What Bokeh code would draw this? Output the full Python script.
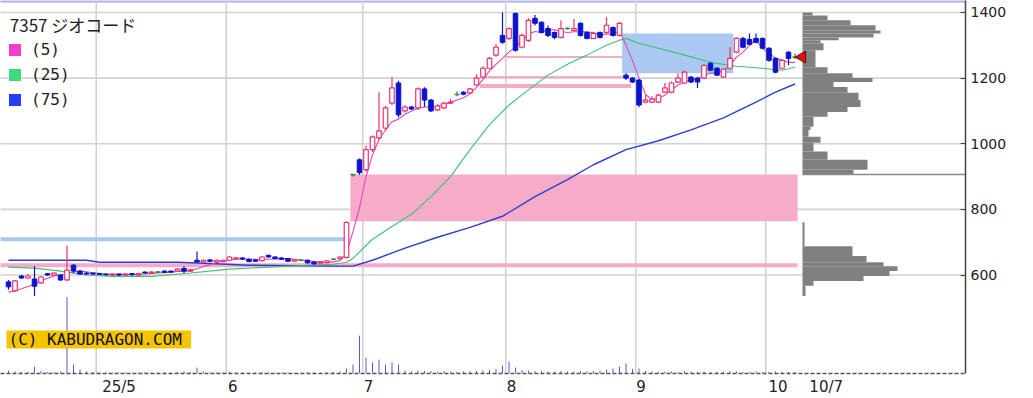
import math
from bokeh.plotting import figure
from bokeh.models import (Range1d, FixedTicker, Label, BoxAnnotation, Legend,
                          LegendItem, ColumnDataSource)
from bokeh.embed import file_html
from bokeh.resources import INLINE

# ---------------- data ----------------
ticker_name = "7357 ジオコード"
ma_labels = ["(5)", "(25)", "(75)"]
price_ticks = [600, 800, 1000, 1200, 1400]
month_labels = ["25/5", "6", "7", "8", "9", "10", "10/7"]
month_label_pos = [17.0, 34.5, 55.4, 77.4, 97.3, 118.4, 125.8]
month_start_idx = [14, 34, 55, 77, 97, 117]

opens = [579, 552, 597, 591, 588, 576, 604, 600, 600, 585,
         630, 612, 606, 606, 604, 603, 600, 603, 600, 604,
         600, 609, 605, 609, 612, 612, 612, 620, 612, 645,
         640, 646, 640, 641, 645, 650, 652, 648, 646, 644,
         660, 655, 652, 650, 642, 645, 645, 640, 636, 638,
         648, 650, 654, 906, 951, 921, 982, 1018, 1048, 1124,
         1185, 1100, 1112, 1109, 1167, 1133, 1103, 1109, 1124, 1150,
         1157, 1155, 1179, 1203, 1230, 1270, 1330, 1321, 1397, 1294,
         1315, 1382, 1370, 1351, 1339, 1324, 1351, 1345, 1367, 1339,
         1321, 1339, 1339, 1354, 1330, 1209, 1200, 1194, 1127, 1127,
         1127, 1157, 1157, 1188, 1185, 1203, 1200, 1200, 1245, 1230,
         1203, 1230, 1279, 1321, 1318, 1321, 1321, 1291, 1260, 1230,
         1279, 1264]
highs = [585, 585, 600, 603, 627, 597, 606, 608, 603, 690,
         633, 615, 609, 607, 606, 605, 605, 604, 606, 606,
         606, 611, 612, 612, 614, 613, 620, 627, 618, 672,
         647, 648, 647, 647, 658, 654, 654, 650, 648, 657,
         662, 657, 654, 652, 648, 648, 647, 642, 642, 645,
         650, 657, 764, 908, 955, 995, 1025, 1157, 1115, 1203,
         1192, 1118, 1115, 1172, 1172, 1136, 1120, 1127, 1136, 1160,
         1160, 1170, 1212, 1236, 1264, 1303, 1400, 1354, 1400, 1336,
         1382, 1392, 1373, 1360, 1342, 1376, 1355, 1380, 1370, 1342,
         1340, 1342, 1385, 1357, 1372, 1215, 1203, 1197, 1148, 1145,
         1152, 1185, 1190, 1215, 1222, 1206, 1203, 1242, 1250, 1233,
         1230, 1294, 1324, 1325, 1336, 1336, 1324, 1294, 1263, 1258,
         1282, 1275]
lows = [555, 548, 588, 588, 536, 573, 597, 598, 582, 582,
        606, 600, 600, 600, 600, 598, 598, 597, 598, 598,
        598, 604, 603, 606, 606, 606, 610, 606, 609, 638,
        638, 640, 638, 639, 643, 648, 646, 639, 640, 642,
        653, 648, 646, 640, 640, 642, 635, 632, 634, 636,
        645, 648, 650, 900, 905, 915, 975, 1012, 1042, 1118,
        1080, 1095, 1103, 1103, 1112, 1097, 1100, 1106, 1121, 1145,
        1148, 1152, 1176, 1200, 1227, 1265, 1305, 1315, 1280, 1290,
        1310, 1360, 1336, 1325, 1318, 1321, 1348, 1342, 1327, 1318,
        1318, 1321, 1336, 1327, 1327, 1194, 1185, 1112, 1124, 1124,
        1124, 1154, 1154, 1185, 1182, 1185, 1170, 1197, 1221, 1206,
        1200, 1227, 1276, 1291, 1300, 1306, 1288, 1250, 1215, 1227,
        1239, 1258]
closes = [564, 582, 591, 597, 566, 594, 600, 606, 585, 615,
          612, 603, 603, 603, 602, 601, 603, 600, 603, 601,
          604, 606, 609, 609, 608, 609, 618, 612, 616, 640,
          645, 642, 645, 645, 655, 652, 649, 641, 642, 655,
          655, 650, 648, 642, 646, 645, 637, 634, 640, 643,
          648, 655, 760, 906, 912, 982, 1021, 1039, 1109, 1170,
          1088, 1112, 1106, 1167, 1133, 1100, 1115, 1124, 1127, 1150,
          1151, 1167, 1200, 1230, 1260, 1294, 1309, 1351, 1285, 1330,
          1376, 1367, 1339, 1330, 1324, 1351, 1351, 1351, 1330, 1321,
          1336, 1324, 1361, 1330, 1367, 1200, 1188, 1118, 1133, 1136,
          1148, 1170, 1185, 1200, 1218, 1188, 1188, 1239, 1224, 1209,
          1227, 1260, 1321, 1294, 1303, 1309, 1291, 1254, 1218, 1254,
          1260, 1264]
volumes = [30, 20, 15, 15, 70, 25, 15, 15, 20, 770,
           90, 40, 20, 15, 12, 12, 10, 10, 12, 10,
           10, 12, 10, 10, 12, 10, 15, 20, 15, 60,
           20, 12, 10, 12, 15, 10, 12, 10, 10, 15,
           12, 10, 10, 12, 10, 10, 12, 10, 10, 12,
           15, 20, 50, 90, 380, 160, 110, 140, 90, 110,
           90, 30, 20, 30, 25, 25, 20, 25, 20, 15,
           20, 20, 25, 30, 35, 45, 80, 120, 60, 35,
           30, 25, 25, 20, 20, 25, 20, 20, 25, 20,
           25, 30, 40, 50, 70, 100, 45, 50, 25, 20,
           15, 20, 20, 15, 25, 20, 15, 20, 15, 15,
           15, 25, 20, 15, 15, 20, 15, 15, 20, 15,
           15, 15]
ma5 = [548, 552, 558, 565, 573, 582, 590, 597, 600, 606,
       609, 612, 610, 607, 605, 602, 602, 602, 602, 602,
       602, 603, 605, 606, 607, 608, 611, 611, 613, 619,
       626, 631, 638, 643, 646, 648, 649, 648, 648, 648,
       648, 649, 650, 650, 648, 646, 644, 641, 640, 640,
       640, 644, 665, 733, 805, 900, 966, 1012, 1042, 1067,
       1075, 1090, 1100, 1108, 1112, 1112, 1115, 1120, 1126, 1133,
       1140, 1152, 1172, 1196, 1222, 1242, 1260, 1280, 1294, 1316,
       1334, 1342, 1339, 1348, 1347, 1342, 1339, 1341, 1341, 1341,
       1338, 1332, 1334, 1334, 1344, 1300, 1254, 1200, 1150, 1135,
       1139, 1148, 1164, 1179, 1188, 1194, 1197, 1209, 1215, 1215,
       1224, 1239, 1264, 1279, 1300, 1315, 1291, 1276, 1261, 1254,
       1248, 1248]
ma25_idx = [0, 4, 8, 12, 16, 22, 28, 34, 40, 46, 50, 52, 53, 56, 59, 62, 65, 68,
            71, 74, 77, 80, 83, 86, 89, 92, 94, 95, 97, 100, 104, 108, 112, 116,
            119, 121]
ma25_val = [624, 621, 612, 600, 596, 596, 606, 618, 624, 630, 633, 639, 651, 709,
            748, 785, 839, 900, 982, 1058, 1118, 1164, 1209, 1242, 1270, 1300,
            1315, 1321, 1306, 1291, 1270, 1248, 1236, 1230, 1224, 1233]
ma75_idx = [0, 12, 14, 26, 30, 37, 50, 53, 56, 61, 66, 71, 76, 81, 86, 90, 95,
            100, 105, 110, 115, 118, 121]
ma75_val = [645, 645, 639, 639, 636, 630, 627, 627, 645, 682, 715, 745, 779, 839,
            891, 936, 982, 1009, 1042, 1079, 1127, 1157, 1182]

# price-by-volume profile (price band low, high, volume)
pv_lo = [1391, 1376, 1361, 1345, 1336, 1324, 1315, 1306, 1285, 1233, 1215, 1200,
         1188, 1173, 1155, 1133, 1112, 1097, 1082, 1052, 1042, 1021, 1003, 976,
         951, 921, 906, 688, 658, 639, 627, 612, 597, 582, 567, 536]
pv_hi = [1400, 1391, 1376, 1361, 1345, 1336, 1324, 1315, 1306, 1285, 1233, 1215,
         1200, 1188, 1173, 1155, 1133, 1112, 1097, 1082, 1052, 1042, 1021, 1003,
         976, 951, 921, 761, 688, 658, 639, 627, 612, 597, 582, 567]
pv_vol = [10, 25, 48, 73, 78, 71, 36, 18, 21, 13, 25, 50,
          70, 31, 45, 56, 58, 45, 25, 11, 8, 6, 18, 11,
          25, 65, 51, 2, 50, 64, 81, 95, 87, 61, 11, 3]

# price gaps (windows) drawn as bands: from idx, to idx, low, high
pink_left = [52.6, -1.3, 76.5, 73.0, 72.5]
pink_right = [121.4, 121.4, 94.5, 94.5, 95.8]
pink_low = [764, 624, 1261, 1200, 1170]
pink_high = [906, 636, 1267, 1206, 1182]
blue_left = [-1.3, 94.4]
blue_right = [51.7, 111.5]
blue_low = [703, 1215]
blue_high = [715, 1336]

# ---------------- colours ----------------
UP = "#e8336f"
DN = "#0a14cc"
DJ = "#2e8b3a"
C5 = "#e046c0"
C25 = "#3cc46e"
C75 = "#2b3fd2"
PINK = "#f6abc9"
LBLUE = "#aac8f2"
GRID = "#d2d2d2"

n = len(closes)
idx = list(range(n))

p = figure(width=1033, height=398, output_backend="svg", toolbar_location=None,
           x_range=Range1d(-1.2308, 147.23), y_range=Range1d(300, 1436.4),
           y_axis_location="right", min_border_left=0, min_border_right=68,
           min_border_top=0, min_border_bottom=23)
p.outline_line_color = None
p.xgrid.visible = False
p.ygrid.visible = False
p.extra_y_ranges = {"vol": Range1d(0, 3750)}
p.extra_x_ranges = {"pv": Range1d(-802, 163)}

# top border line
p.quad(left=[-1.3], right=[148], bottom=[1430.5], top=[1437], fill_color="#a9aaf0",
       line_color=None)

# grid
p.segment(x0=[-1.3] * len(price_ticks), x1=[148] * len(price_ticks), y0=price_ticks,
          y1=price_ticks, line_color=GRID, line_width=1.6)
gx = [m - 0.5 for m in month_start_idx]
p.segment(x0=gx, x1=gx, y0=[300] * len(gx), y1=[1437] * len(gx), line_color=GRID,
          line_width=1.6)

# gap bands
p.quad(left=pink_left, right=pink_right, bottom=pink_low, top=pink_high,
       fill_color=PINK, line_color=None)
p.quad(left=blue_left, right=blue_right, bottom=blue_low, top=blue_high,
       fill_color=LBLUE, line_color=None)

# volume
p.segment(x0=idx, x1=idx, y0=[0] * n, y1=volumes, y_range_name="vol",
          line_color="#5a5ad0", line_width=1)

# price-by-volume profile
p.quad(left=[0] * len(pv_vol), right=pv_vol, bottom=pv_lo, top=pv_hi,
       x_range_name="pv", fill_color="#808080", line_color=None)
p.segment(x0=[0], x1=[163], y0=[906], y1=[906], x_range_name="pv",
          line_color="#8a8a8a", line_width=1.5)

# moving averages
p.line(ma75_idx, ma75_val, line_color=C75, line_width=1.4)
p.line(ma25_idx, ma25_val, line_color=C25, line_width=1.1)
p.line(idx, ma5, line_color=C5, line_width=1.1)

# candlesticks
wick_col = [UP if closes[i] > opens[i] else (DN if closes[i] < opens[i] else DJ) for i in idx]
p.segment(x0=idx, x1=idx, y0=lows, y1=highs, line_color=wick_col, line_width=1.2)
up = [i for i in idx if closes[i] > opens[i]]
dn = [i for i in idx if closes[i] < opens[i]]
dj = [i for i in idx if closes[i] == opens[i]]
p.vbar(x=up, width=0.7, bottom=[opens[i] for i in up], top=[closes[i] for i in up],
       fill_color="white", line_color=UP, line_width=1.2)
p.vbar(x=dn, width=0.7, bottom=[closes[i] for i in dn], top=[opens[i] for i in dn],
       fill_color=DN, line_color=DN, line_width=1.0)
p.segment(x0=[i - 0.38 for i in dj], x1=[i + 0.38 for i in dj],
          y0=[closes[i] for i in dj], y1=[closes[i] for i in dj],
          line_color=DJ, line_width=1.6)

# last-price marker
p.scatter(x=[n + 0.1], y=[closes[-1]], marker="triangle", angle=math.pi / 2, size=12,
          fill_color="#e41010", line_color="#6a0000", line_width=1)

# axes
ya = p.yaxis[0]
ya.ticker = FixedTicker(ticks=price_ticks)
ya.major_tick_in = 5
ya.major_tick_out = 0
ya.minor_tick_line_color = None
ya.axis_line_color = "#444444"
ya.axis_line_width = 1.5
ya.major_tick_line_color = "#444444"
ya.major_label_standoff = 5
ya.major_label_text_font = "DejaVu Sans"
ya.major_label_text_font_size = "14px"
ya.major_label_text_color = "#222222"

xa = p.xaxis[0]
xa.ticker = FixedTicker(ticks=month_label_pos)
xa.major_label_overrides = {pos: lab for pos, lab in zip(month_label_pos, month_labels)}
xa.major_tick_in = 0
xa.major_tick_out = 0
xa.minor_tick_line_color = None
xa.major_tick_line_color = None
xa.axis_line_color = "#555555"
xa.axis_line_width = 1.5
xa.axis_line_dash = "4 2"
xa.major_label_standoff = 4
xa.major_label_text_font = "DejaVu Sans"
xa.major_label_text_font_size = "15px"
xa.major_label_text_color = "#222222"

# copyright box
p.add_layout(BoxAnnotation(left=-0.31, right=28.1, bottom=376, top=431,
                           fill_color="#f5c400", fill_alpha=1.0, line_color=None))
p.add_layout(Label(x=0.0, y=403, text="(C) KABUDRAGON.COM", text_baseline="middle",
                   text_font="DejaVu Sans Mono", text_font_size="16px",
                   text_color="#111111"))

# title and legend
p.add_layout(Label(x=0.2, y=1362, text=ticker_name, text_baseline="middle",
                   text_font="Noto Sans CJK JP", text_font_size="17px",
                   text_color="#222222"))
nan = float("nan")
legend_colors = ["#f23ccb", "#3cdc7c", "#2440ee"]
legend_renderers = []
for col in legend_colors:
    src = ColumnDataSource(dict(left=[nan], right=[nan], top=[nan], bottom=[nan]))
    legend_renderers.append(p.quad(source=src, left="left", right="right", top="top",
                                   bottom="bottom", fill_color=col, line_color=None))
legend = Legend(items=[LegendItem(label=lab, renderers=[r])
                       for lab, r in zip(ma_labels, legend_renderers)],
                location=(7, 264), orientation="vertical",
                glyph_width=15, glyph_height=15, label_height=15, spacing=6,
                padding=7, margin=0, label_standoff=9,
                label_text_font="DejaVu Sans Mono", label_text_font_size="16px",
                label_text_color="#222222", background_fill_alpha=0.0,
                border_line_color=None)
p.add_layout(legend)

open("out.html", "w").write(file_html(p, INLINE))
